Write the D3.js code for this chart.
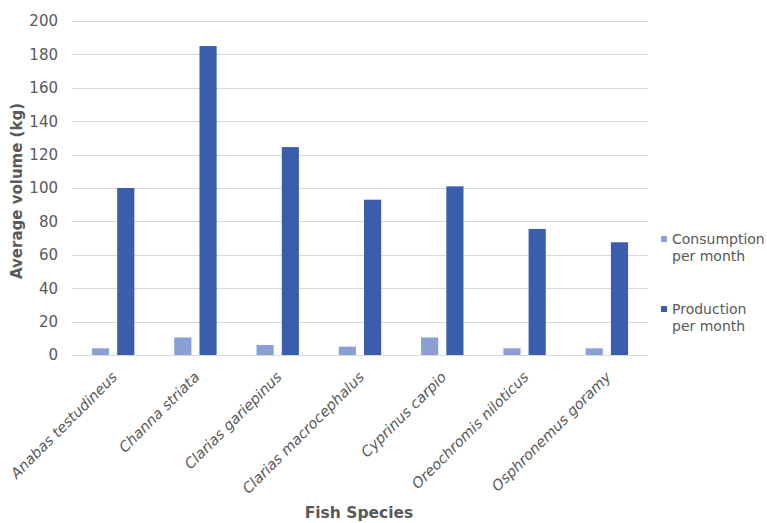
<!DOCTYPE html>
<html>
<head>
<meta charset="utf-8">
<script src="https://cdn.jsdelivr.net/npm/d3@7"></script>
<style>
  html, body { margin: 0; padding: 0; background: #fff; }
  svg { display: block; }
  text { font-family: "DejaVu Sans", sans-serif; fill: #595959; }
</style>
</head>
<body>
<svg id="chart" width="767" height="523"></svg>
<script>
// Fish species and monthly volumes (kg)
const categories = [
  "Anabas testudineus",
  "Channa striata",
  "Clarias gariepinus",
  "Clarias macrocephalus",
  "Cyprinus carpio",
  "Oreochromis niloticus",
  "Osphronemus goramy"
];
const consumption = [4, 10.5, 6, 5, 10.5, 4, 4];
const production = [100, 185, 124.5, 93, 101, 75.5, 67.5];
const seriesNames = ["Consumption per month", "Production per month"];
const seriesLines = [["Consumption", "per month"], ["Production", "per month"]];
const yTicks = [0, 20, 40, 60, 80, 100, 120, 140, 160, 180, 200];

const colors = ["#8c9fd3", "#3a5dac"];
const seriesValues = [consumption, production];

const svg = d3.select("#chart");
const plot = { left: 72, right: 648, top: 21, bottom: 355 };

const x = d3.scaleBand()
  .domain(categories)
  .range([plot.left, plot.right])
  .padding(0);

const xs = d3.scaleBand()
  .domain(d3.range(seriesNames.length))
  .range([0, x.bandwidth()])
  .paddingInner(0.32)
  .paddingOuter(0.79);

const y = d3.scaleLinear()
  .domain([0, 200])
  .range([plot.bottom, plot.top]);

// Horizontal gridlines
svg.append("g")
  .selectAll("line")
  .data(yTicks)
  .join("line")
  .attr("x1", plot.left)
  .attr("x2", plot.right)
  .attr("y1", d => Math.round(y(d)) + 0.5)
  .attr("y2", d => Math.round(y(d)) + 0.5)
  .attr("stroke", "#d9d9d9")
  .attr("stroke-width", 1);

// Y axis tick labels
const yAxis = d3.axisLeft(y).tickValues(yTicks).tickSize(0).tickPadding(0);
const yg = svg.append("g")
  .attr("transform", `translate(${plot.left - 14},0)`)
  .call(yAxis);
yg.select(".domain").remove();
yg.selectAll("text")
  .style("font-size", "15px")
  .style("font-family", "'DejaVu Sans', sans-serif")
  .attr("fill", "#595959");

// Bars
const groups = svg.append("g")
  .selectAll("g")
  .data(categories)
  .join("g")
  .attr("transform", d => `translate(${x(d)},0)`);

groups.selectAll("rect")
  .data((d, i) => seriesValues.map((vals, s) => ({ s, v: vals[i] })))
  .join("rect")
  .attr("x", d => xs(d.s))
  .attr("width", xs.bandwidth())
  .attr("y", d => y(d.v))
  .attr("height", d => y(0) - y(d.v))
  .attr("fill", d => colors[d.s]);

// X axis category labels
const xg = svg.append("g");
xg.selectAll("text")
  .data(categories)
  .join("text")
  .attr("transform", d => `translate(${x(d) + x.bandwidth() / 2 + 5},378) rotate(-45)`)
  .attr("text-anchor", "end")
  .style("font-size", "14.5px")
  .style("font-style", "italic")
  .text(d => d);

// Axis titles
svg.append("text")
  .attr("transform", `translate(22,${(plot.top + plot.bottom) / 2 + 3}) rotate(-90)`)
  .attr("text-anchor", "middle")
  .style("font-size", "15px")
  .style("font-weight", "bold")
  .text("Average volume (kg)");

svg.append("text")
  .attr("x", 359)
  .attr("y", 518)
  .attr("text-anchor", "middle")
  .style("font-size", "15.5px")
  .style("font-weight", "bold")
  .text("Fish Species");

// Legend
const legend = svg.append("g");
const legendY = [244, 314];
seriesNames.forEach((name, i) => {
  const g = legend.append("g").attr("transform", `translate(661,${legendY[i]})`);
  g.append("rect")
    .attr("x", 0).attr("y", -8)
    .attr("width", 6).attr("height", 6)
    .attr("fill", colors[i]);
  g.append("text")
    .attr("x", 11).attr("y", 0)
    .style("font-size", "14px")
    .selectAll("tspan")
    .data(seriesLines[i])
    .join("tspan")
    .attr("x", 11)
    .attr("dy", (d, j) => j === 0 ? 0 : 17)
    .text(d => d);
});
</script>
</body>
</html>
